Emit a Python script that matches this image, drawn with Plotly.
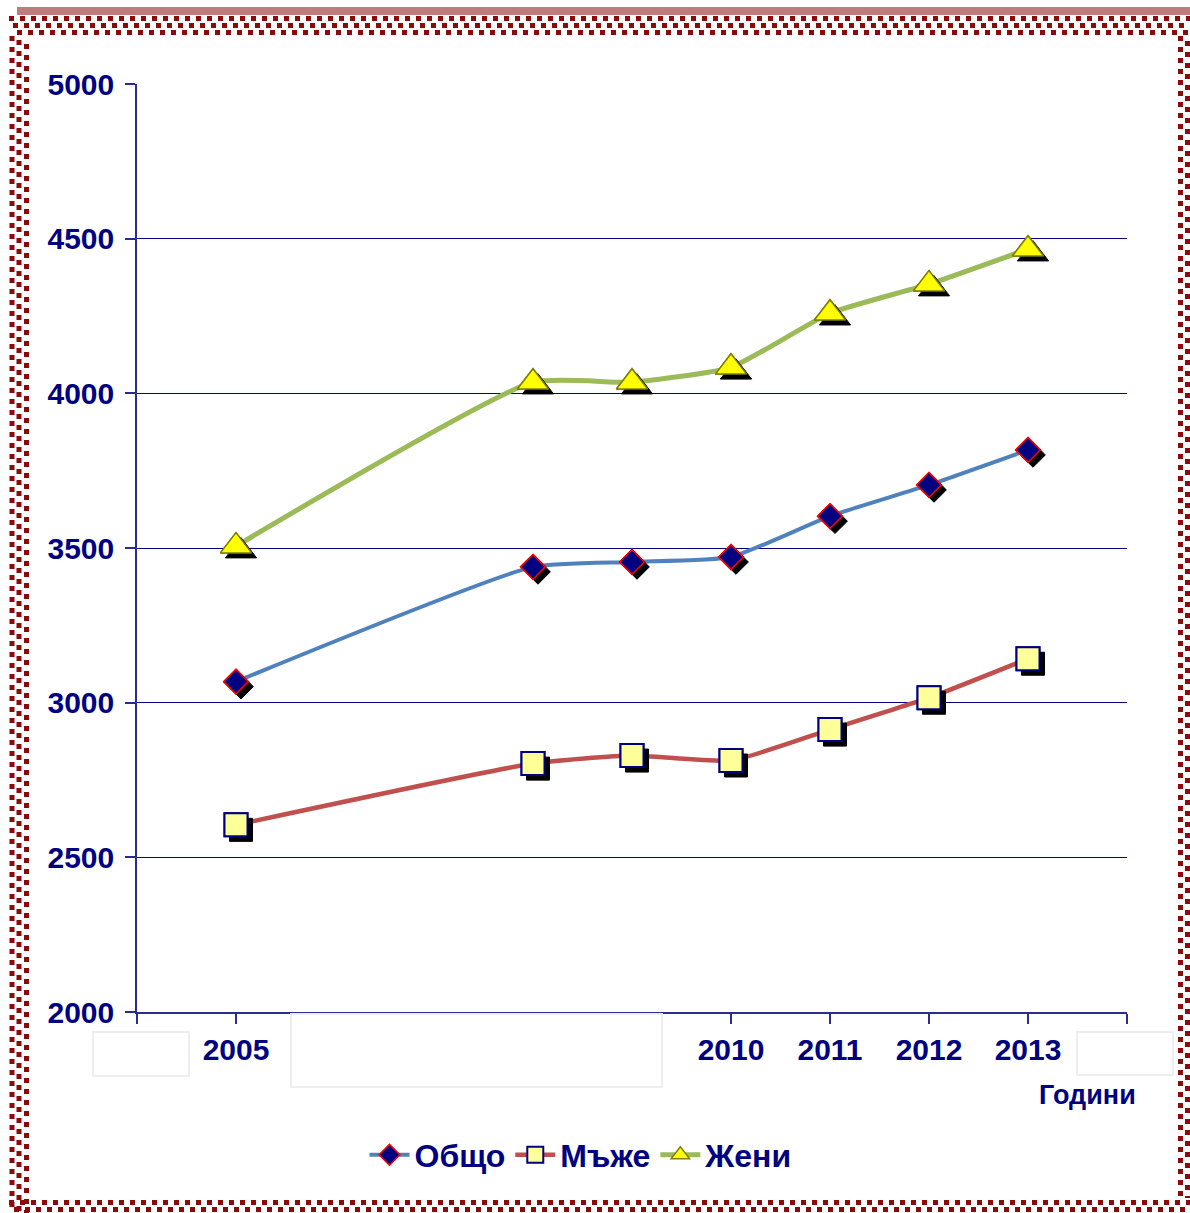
import plotly.graph_objects as go

# ---------------- data ----------------
years = [2005, 2008, 2009, 2010, 2011, 2012, 2013]
obshto = [3068, 3439, 3455, 3471, 3603, 3704, 3817]
muzhe = [2605, 2803, 2829, 2813, 2913, 3016, 3142]
zheni = [3506, 4036, 4036, 4084, 4259, 4353, 4466]

tick_years = list(range(2004, 2015))
tick_labels = ["", "2005", "", "", "", "", "2010", "2011", "2012", "2013", ""]
y_ticks = [2000, 2500, 3000, 3500, 4000, 4500, 5000]

NAVY = "#000080"
FONT = "Liberation Sans"

# plot area in pixels
L, R, T, B = 137, 1127, 84, 1012
W, H = 1190, 1213


def px_x(p):
    return (p - L) / (R - L)


def px_y(p):
    return (B - p) / (B - T)


series = [
    dict(name="Общо", y=obshto, color="#4F81BD", lw=4,
         marker=dict(symbol="diamond", size=19, color=NAVY,
                     line=dict(color="#FF0000", width=1.5))),
    dict(name="Мъже", y=muzhe, color="#C0504D", lw=4.5,
         marker=dict(symbol="square", size=23, color="#FFFF99",
                     line=dict(color=NAVY, width=2))),
    dict(name="Жени", y=zheni, color="#9BBB59", lw=5,
         marker=dict(symbol="triangle-up", size=27, color="#FFFF00",
                     line=dict(color="#7F7F00", width=1.5))),
]

fig = go.Figure()

# lines + markers (legend entries)
for s in series:
    fig.add_trace(go.Scatter(
        x=years, y=s["y"], name=s["name"], mode="lines+markers",
        line=dict(color=s["color"], width=s["lw"], shape="spline", smoothing=0.5),
        marker=s["marker"], cliponaxis=False,
    ))

# marker shadows (offset a few pixels right/down)
dx = 5 / ((R - L) / 10)
dy = 5 / ((B - T) / 3000)
for s in series:
    m = dict(symbol=s["marker"]["symbol"], size=s["marker"]["size"], color="black",
             line=dict(color="black", width=1))
    fig.add_trace(go.Scatter(
        x=[v + dx for v in years], y=[v - dy for v in s["y"]],
        mode="markers", marker=m, showlegend=False, hoverinfo="skip",
        cliponaxis=False,
    ))

# markers on top
for s in series:
    fig.add_trace(go.Scatter(
        x=years, y=s["y"], mode="markers", marker=s["marker"],
        showlegend=False, hoverinfo="skip", cliponaxis=False,
    ))

shapes = []

# white boxes covering some x labels
for (x0, x1, y0, y1) in [(93, 189, 1032, 1076), (291, 662, 1014, 1087), (1077, 1173, 1032, 1075)]:
    shapes.append(dict(type="rect", xref="paper", yref="paper",
                       x0=px_x(x0), x1=px_x(x1), y0=px_y(y0), y1=px_y(y1),
                       line=dict(color="#EEEEEE", width=2), fillcolor="white",
                       layer="above"))

# decorative border
shapes.append(dict(type="rect", xref="paper", yref="paper",
                   x0=px_x(17), x1=px_x(1190), y0=px_y(7), y1=px_y(15),
                   line=dict(width=0), fillcolor="#C07C7C", layer="above"))

DOT = "#8B0A0A"
dash = "5px,6px"
# top rows
for i, yy in enumerate([18.5, 25.5, 32.5]):
    shapes.append(dict(type="line", xref="paper", yref="paper",
                       x0=px_x(9 + 4 * i), x1=px_x(1190), y0=px_y(yy), y1=px_y(yy),
                       line=dict(color=DOT, width=5, dash=dash), layer="above"))
# bottom rows
for i, yy in enumerate([1202.5, 1209.5]):
    shapes.append(dict(type="line", xref="paper", yref="paper",
                       x0=px_x(9 + 5 * i), x1=px_x(1190), y0=px_y(yy), y1=px_y(yy),
                       line=dict(color=DOT, width=5, dash=dash), layer="above"))
# left columns
for i, xx in enumerate([12, 19, 26.5]):
    shapes.append(dict(type="line", xref="paper", yref="paper",
                       x0=px_x(xx), x1=px_x(xx), y0=px_y(36 + 4 * i), y1=px_y(1213),
                       line=dict(color=DOT, width=5, dash=dash), layer="above"))
# right columns
for i, xx in enumerate([1180.5, 1187.5]):
    shapes.append(dict(type="line", xref="paper", yref="paper",
                       x0=px_x(xx), x1=px_x(xx), y0=px_y(36 + 5 * i), y1=px_y(1198),
                       line=dict(color=DOT, width=5, dash=dash), layer="above"))

fig.update_layout(
    width=W, height=H,
    margin=dict(l=L, r=W - R, t=T, b=H - B),
    paper_bgcolor="white", plot_bgcolor="white",
    font=dict(family=FONT, color=NAVY, size=30, weight="bold"),
    shapes=shapes,
    showlegend=True,
    legend=dict(orientation="h", x=px_x(581), y=px_y(1155),
                xanchor="center", yanchor="middle",
                font=dict(family=FONT, size=32, color=NAVY, weight="bold"),
                itemwidth=40, tracegroupgap=0, bgcolor="rgba(0,0,0,0)"),
    annotations=[dict(text="Години", xref="paper", yref="paper",
                      x=px_x(1087), y=px_y(1095), showarrow=False,
                      xanchor="center", yanchor="middle",
                      font=dict(family=FONT, size=27, color=NAVY, weight="bold"))],
)

fig.update_xaxes(
    range=[2004, 2014], tickmode="array", tickvals=tick_years, ticktext=tick_labels,
    showgrid=False, zeroline=False, showline=True, linecolor="#2B2B90", linewidth=1.5,
    ticks="outside", ticklen=10, tickcolor="#2B2B90", tickwidth=1.5,
    ticklabelstandoff=0,
    tickfont=dict(family=FONT, size=30, color=NAVY, weight="bold"),
)
fig.update_yaxes(
    range=[2000, 5000], tickmode="array", tickvals=y_ticks,
    ticktext=[str(v) for v in y_ticks],
    showgrid=True, gridcolor=NAVY, gridwidth=1, zeroline=False,
    showline=True, linecolor="#2B2B90", linewidth=1.5,
    ticks="outside", ticklen=10, tickcolor="#2B2B90", tickwidth=1.5,
    ticklabelstandoff=5,
    tickfont=dict(family=FONT, size=30, color=NAVY, weight="bold"),
)

fig.write_html("out.html",
               config={"displayModeBar": False},
               post_script="document.body.style.margin='0';document.body.style.overflow='hidden';")
